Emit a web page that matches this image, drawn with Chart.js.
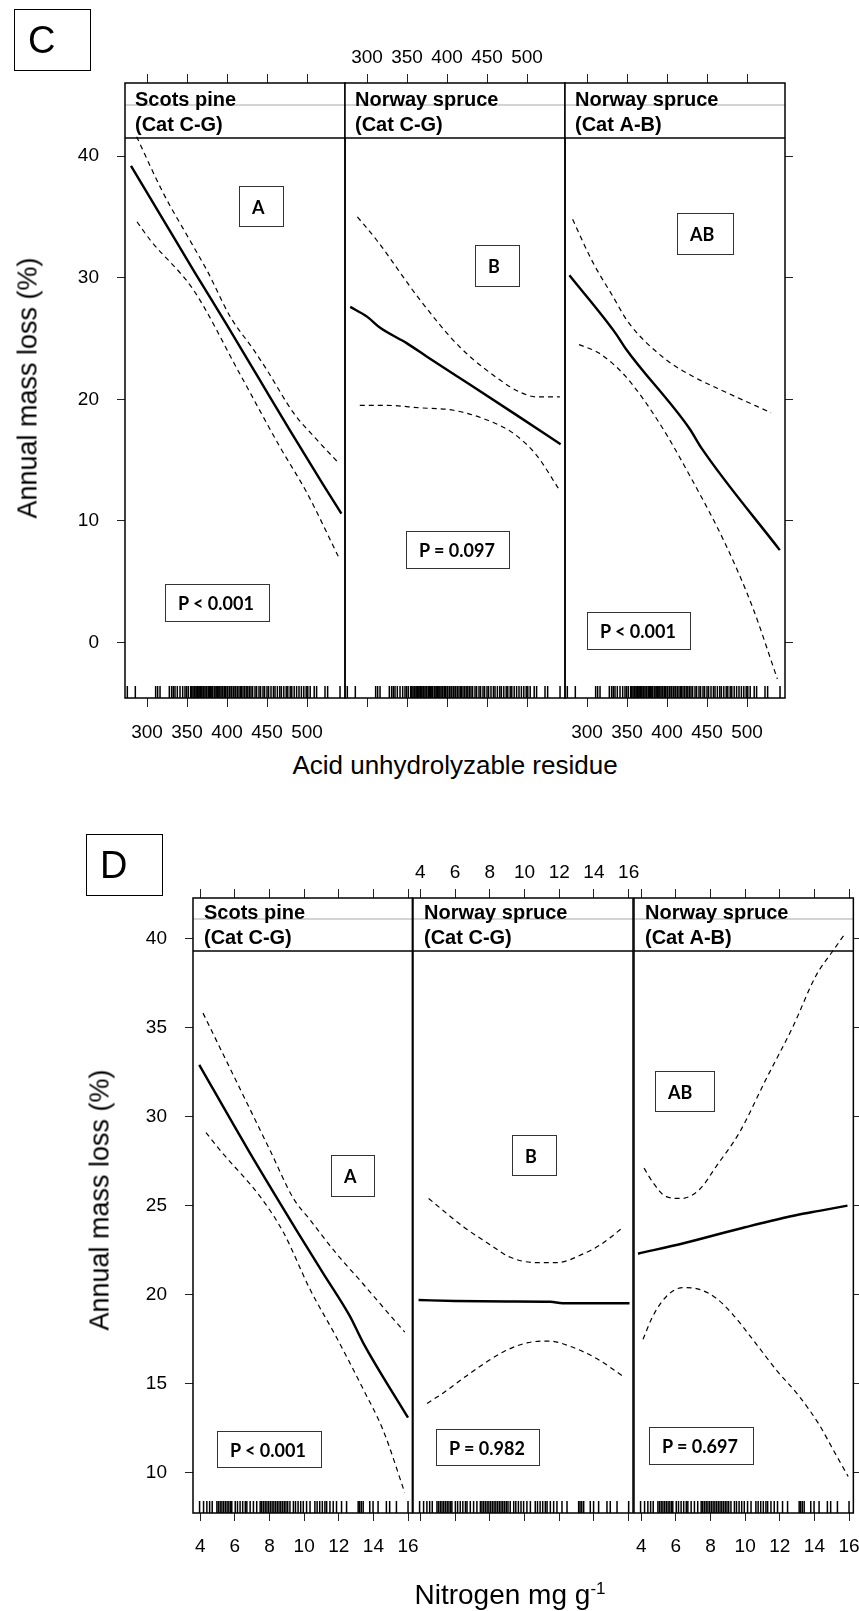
<!DOCTYPE html>
<html>
<head>
<meta charset="utf-8">
<script src="https://cdn.jsdelivr.net/npm/chart.js@4.4.1/dist/chart.umd.min.js"></script>
<style>
  body { margin: 0; background: #fff; }
  #page { position: relative; width: 859px; height: 1611px; overflow: hidden; font-family: "Liberation Sans", Arial, sans-serif; color: #000; }
  canvas { position: absolute; }
  .tag { position: absolute; border: 1px solid #000; box-sizing: border-box; font-size: 38px; line-height: 60px; padding-left: 13px; }
  .note { position: absolute; border: 1px solid #333; box-sizing: border-box; font: bold 18px Lato, "Liberation Sans", sans-serif; padding-left: 12px; display: flex; align-items: center; }
  .ytitle { position: absolute; font-size: 27px; white-space: nowrap; transform: translate(-50%, -50%) rotate(-90deg); }
  .xtitle { position: absolute; font-size: 26px; white-space: nowrap; transform: translateX(-50%); line-height: 30px; }
  .xtitle.big { font-size: 28px; }
  .xtitle sup { font-size: 17px; }
</style>
</head>
<body>
<div id="page"></div>
<script>
// ---- data ----
const panelTitles = [["Scots pine", "(Cat C-G)"], ["Norway spruce", "(Cat C-G)"], ["Norway spruce", "(Cat A-B)"]];

// figure C: acid unhydrolyzable residue
const cXTicks = [300, 350, 400, 450, 500];
const cYTicks = [0, 10, 20, 30, 40];
const cLetters = ["A", "B", "AB"];
const cPvals = ["P < 0.001", "P = 0.097", "P < 0.001"];

const c1FitX = [280, 320, 360, 400, 440, 480, 520, 543];
const c1FitY = [39.2, 34.8, 30.4, 26.1, 21.7, 17.3, 13.0, 10.6];
const c1UpX = [287, 320, 356, 375, 404, 433, 450, 483, 512, 539];
const c1UpY = [41.6, 37.0, 32.8, 30.6, 26.8, 24.1, 22.4, 18.9, 16.7, 14.8];
const c1LoX = [287.5, 304, 358, 416, 466, 500, 539];
const c1LoY = [34.6, 33.1, 29.0, 22.1, 16.1, 12.3, 7.1];

const c2FitX = [279, 300, 316, 350, 375, 429, 487, 542];
const c2FitY = [27.6, 26.8, 25.9, 24.6, 23.5, 21.2, 18.7, 16.3];
const c2UpX = [288, 312, 366, 416, 466, 491, 512, 541];
const c2UpY = [35.0, 33.1, 28.2, 24.3, 21.6, 20.6, 20.2, 20.2];
const c2LoX = [291, 325, 366, 408, 450, 483, 512, 539];
const c2LoY = [19.5, 19.5, 19.3, 19.1, 18.3, 17.2, 15.4, 12.7];

const c3FitX = [278, 336, 348, 428, 444, 541];
const c3FitY = [30.2, 25.4, 24.2, 17.6, 15.9, 7.6];
const c3UpX = [282, 307, 332, 352, 398, 432, 473, 530];
const c3UpY = [34.8, 31.3, 28.5, 26.3, 23.3, 21.9, 20.6, 18.9];
const c3LoX = [290, 315, 348, 390, 432, 473, 507, 538];
const c3LoY = [24.5, 23.8, 21.9, 18.1, 13.3, 8.1, 2.9, -3.0];

const cRug = [275.4, 285.4, 310.8, 313.3, 316.3, 327.9, 330.8, 332.9, 335, 337.9, 341.3, 344.6, 347.5, 349.6, 351.7, 354.6,
  356, 357.5, 359, 360, 361.5, 363, 364, 366, 367, 368.5, 370, 371, 372.5, 374, 375, 377, 378, 379.5, 381, 382, 384, 385,
  386.5, 388, 389, 391, 392.5, 394, 395, 397, 398, 400, 401, 403, 405, 406, 408, 410, 411, 413, 415, 417, 418, 420, 422,
  424, 426, 428, 430, 432, 435, 437, 440, 442, 445, 447, 450, 452, 455, 458, 460, 463, 466, 468, 471, 474, 476, 479, 481,
  484, 487, 490, 493, 496, 499, 501, 504, 509, 512, 522.5, 525.8, 541.3];

// figure D: nitrogen
const dXTicks = [4, 6, 8, 10, 12, 14, 16];
const dYTicks = [10, 15, 20, 25, 30, 35, 40];
const dLetters = ["A", "B", "AB"];
const dPvals = ["P < 0.001", "P = 0.982", "P = 0.697"];

const d1FitX = [3.94, 6.78, 9.57, 11.1, 12.64, 13.41, 16.0];
const d1FitY = [32.9, 28.1, 23.6, 21.2, 18.8, 17.3, 13.1];
const d1UpX = [4.16, 8.03, 9.38, 10.34, 11.87, 13.41, 14.56, 15.81];
const d1UpY = [35.8, 28.1, 25.4, 24.2, 22.3, 20.6, 19.3, 17.9];
const d1LoX = [4.33, 5.15, 7.46, 8.8, 10.34, 11.87, 13.41, 14.56, 15.81];
const d1LoY = [29.1, 28.1, 25.5, 23.5, 20.3, 17.6, 14.7, 12.4, 8.9];

const d2FitX = [3.9, 6, 9, 11.5, 12.2, 16.05];
const d2FitY = [19.7, 19.65, 19.62, 19.6, 19.52, 19.52];
const d2UpX = [4.48, 6.5, 8.03, 9.18, 10.72, 11.87, 13.41, 14.37, 15.71];
const d2UpY = [25.4, 23.8, 22.8, 22.1, 21.8, 21.8, 22.3, 22.8, 23.8];
const d2LoX = [4.39, 5.34, 6.88, 8.8, 10.15, 11.39, 12.64, 14.18, 15.71];
const d2LoY = [13.9, 14.5, 15.6, 16.8, 17.3, 17.4, 17.1, 16.4, 15.4];

const d3FitX = [3.81, 6.5, 10.05, 13.12, 14.28, 15.91];
const d3FitY = [22.3, 22.9, 23.8, 24.5, 24.7, 25.0];
const d3UpX = [4.16, 4.67, 5.45, 6.31, 7.36, 8.33, 9.67, 11.21, 12.74, 14.09, 15.0, 15.8];
const d3UpY = [27.1, 26.3, 25.5, 25.4, 25.9, 27.2, 29.1, 32.1, 35.0, 37.9, 39.2, 40.3];
const d3LoX = [4.1, 4.67, 5.45, 6.4, 7.36, 8.33, 9.28, 10.43, 11.78, 13.12, 14.28, 15.14, 15.95];
const d3LoY = [17.5, 18.8, 19.9, 20.4, 20.3, 19.8, 18.9, 17.5, 15.8, 14.3, 12.7, 11.2, 9.8];

const dRug = [3.96, 4.19, 4.38, 4.54, 4.69, 4.96, 5.05, 5.15, 5.25, 5.35, 5.45, 5.55, 5.65, 5.75, 5.82, 6.02, 6.15, 6.3,
  6.45, 6.6, 6.69, 6.88, 7.07, 7.26, 7.46, 7.55, 7.65, 7.75, 7.85, 7.95, 8.05, 8.15, 8.25, 8.35, 8.45, 8.55, 8.65, 8.75,
  8.85, 8.95, 9.05, 9.18, 9.38, 9.5, 9.65, 9.8, 9.95, 10.14, 10.34, 10.62, 10.75, 10.9, 11.05, 11.2, 11.3, 11.49, 11.68,
  11.87, 12.16, 12.45, 13.12, 13.2, 13.3, 13.41, 13.79, 13.98, 14.27, 14.75, 14.94, 15.33, 16.0];

// ---- layout ----
const FONT = '"Liberation Sans", Arial, sans-serif';
const M = { l: 110, r: 20, t: 40, b: 50 };
const RUG_LEN = 12;

const figC = {
  lefts: [125, 345, 565], top: 83, w: 220, h: 615,
  strip: 55, grey: 22, line1: 23, line2: 48, textX: 10,
  xMin: 272.5, xMax: 547.5, yMin: -4.56, yMax: 46.01,
  xTicks: cXTicks, yTicks: cYTicks, rug: cRug,
  tickB: 9, padB: 14,
  series: [
    [c1FitX, c1FitY, c1UpX, c1UpY, c1LoX, c1LoY],
    [c2FitX, c2FitY, c2UpX, c2UpY, c2LoX, c2LoY],
    [c3FitX, c3FitY, c3UpX, c3UpY, c3LoX, c3LoY]
  ]
};
const figD = {
  lefts: [193, 413, 634], top: 898, w: 220, h: 615,
  strip: 53, grey: 21, line1: 21, line2: 46, textX: 11,
  xMin: 3.58, xMax: 16.25, yMin: 7.75, yMax: 42.26,
  xTicks: dXTicks, yTicks: dYTicks, rug: dRug,
  tickB: 8, padB: 14,
  series: [
    [d1FitX, d1FitY, d1UpX, d1UpY, d1LoX, d1LoY],
    [d2FitX, d2FitY, d2UpX, d2UpY, d2LoX, d2LoY],
    [d3FitX, d3FitY, d3UpX, d3UpY, d3LoX, d3LoY]
  ]
};

const page = document.getElementById("page");
const pts = (xs, ys) => xs.map((x, i) => ({ x: x, y: ys[i] }));

function lineSet(xs, ys, dashed) {
  return {
    data: pts(xs, ys),
    showLine: true,
    borderColor: "#000",
    borderWidth: dashed ? 1.2 : 2.4,
    borderDash: dashed ? [5, 4] : [],
    pointRadius: 0,
    cubicInterpolationMode: "monotone"
  };
}

function makePanel(fig, i) {
  const W = fig.w + M.l + M.r, H = fig.h + M.t + M.b;
  const cv = document.createElement("canvas");
  cv.width = W; cv.height = H;
  cv.style.left = (fig.lefts[i] - M.l) + "px";
  cv.style.top = (fig.top - M.t) + "px";
  cv.style.width = W + "px"; cv.style.height = H + "px";
  page.appendChild(cv);

  const s = fig.series[i];
  const rugY = fig.yMin + (RUG_LEN / 2) * (fig.yMax - fig.yMin) / fig.h;
  const datasets = [
    lineSet(s[0], s[1], false),
    lineSet(s[2], s[3], true),
    lineSet(s[4], s[5], true),
    {
      data: fig.rug.map(v => ({ x: v, y: rugY })),
      pointStyle: "line", pointRotation: 90, pointRadius: RUG_LEN / 2,
      pointBorderWidth: 1.5, pointBorderColor: "#000", borderColor: "#000"
    }
  ];

  const deco = {
    id: "deco",
    beforeDatasetsDraw(chart) {
      const ctx = chart.ctx, a = chart.chartArea;
      ctx.save();
      ctx.fillStyle = "#fff";
      ctx.fillRect(a.left, a.top, a.right - a.left, fig.strip);
      ctx.strokeStyle = "#c4c4c4"; ctx.lineWidth = 1.3;
      ctx.beginPath(); ctx.moveTo(a.left, a.top + fig.grey); ctx.lineTo(a.right, a.top + fig.grey); ctx.stroke();
      ctx.strokeStyle = "#000"; ctx.lineWidth = 1.5;
      ctx.beginPath(); ctx.moveTo(a.left, a.top + fig.strip); ctx.lineTo(a.right, a.top + fig.strip); ctx.stroke();
      ctx.fillStyle = "#000";
      ctx.font = "bold 20px " + FONT;
      ctx.textBaseline = "alphabetic";
      ctx.fillText(panelTitles[i][0], a.left + fig.textX, a.top + fig.line1);
      ctx.fillText(panelTitles[i][1], a.left + fig.textX, a.top + fig.line2);
      ctx.restore();
    },
    afterDraw(chart) {
      const ctx = chart.ctx, a = chart.chartArea;
      ctx.save();
      ctx.strokeStyle = "#000"; ctx.lineWidth = 1.5;
      ctx.strokeRect(a.left, a.top, a.right - a.left, a.bottom - a.top);
      ctx.restore();
    }
  };

  const tickFont = { family: FONT, size: 19 };
  const xAxis = (pos, labels, tl, pad, size) => ({
    type: "linear", axis: "x", position: pos, min: fig.xMin, max: fig.xMax, bounds: "data",
    afterBuildTicks: sc => { sc.ticks = fig.xTicks.map(v => ({ value: v })); },
    afterFit: sc => { sc.height = size; },
    ticks: { display: labels, font: tickFont, color: "#000", padding: pad, maxRotation: 0, autoSkip: false },
    grid: { display: true, drawOnChartArea: false, drawTicks: true, tickLength: tl, color: "#222", lineWidth: 1 },
    border: { display: false }
  });
  const yAxis = (pos, show, labels, size) => ({
    type: "linear", axis: "y", position: pos, min: fig.yMin, max: fig.yMax, bounds: "data",
    afterBuildTicks: sc => { sc.ticks = fig.yTicks.map(v => ({ value: v })); },
    afterFit: sc => { sc.width = size; },
    ticks: { display: labels, font: tickFont, color: "#000", padding: 18 },
    grid: { display: show, drawOnChartArea: false, drawTicks: true, tickLength: 8, color: "#222", lineWidth: 1 },
    border: { display: false }
  });

  new Chart(cv, {
    type: "scatter",
    data: { datasets: datasets },
    options: {
      responsive: false,
      animation: false,
      events: [],
      layout: { padding: 0 },
      plugins: { legend: { display: false }, tooltip: { enabled: false } },
      scales: {
        x: xAxis("bottom", i !== 1, fig.tickB, fig.padB, M.b),
        x2: xAxis("top", i === 1, 9, 5, M.t),
        y: yAxis("left", i === 0, i === 0, M.l),
        y2: yAxis("right", i === 2, false, M.r)
      }
    },
    plugins: [deco]
  });
}

function addDiv(cls, html, x, y, w, h) {
  const d = document.createElement("div");
  d.className = cls;
  d.innerHTML = html;
  d.style.left = x + "px"; d.style.top = y + "px";
  if (w) d.style.width = w + "px";
  if (h) d.style.height = h + "px";
  page.appendChild(d);
  return d;
}

[0, 1, 2].forEach(i => makePanel(figC, i));
[0, 1, 2].forEach(i => makePanel(figD, i));

// panel labels
addDiv("tag", "C", 14, 9, 77, 62);
addDiv("tag", "D", 86, 834, 77, 62);

// annotation boxes
const cLetterBox = [[239, 186, 45, 41], [475, 245, 45, 42], [677, 213, 57, 42]];
const cPBox = [[165, 584, 105, 38], [406, 531, 104, 38], [587, 612, 104, 38]];
const dLetterBox = [[331, 1155, 44, 42], [512, 1135, 45, 41], [655, 1071, 60, 41]];
const dPBox = [[217, 1431, 105, 37], [436, 1429, 104, 37], [649, 1427, 105, 38]];
cLetters.forEach((t, i) => addDiv("note", t, ...cLetterBox[i]));
cPvals.forEach((t, i) => addDiv("note", t, ...cPBox[i]));
dLetters.forEach((t, i) => addDiv("note", t, ...dLetterBox[i]));
dPvals.forEach((t, i) => addDiv("note", t, ...dPBox[i]));

// axis titles
addDiv("ytitle", "Annual mass loss (%)", 28, 388);
addDiv("ytitle", "Annual mass loss (%)", 100, 1200);
addDiv("xtitle", "Acid unhydrolyzable residue", 455, 750);
addDiv("xtitle big", "Nitrogen mg g<sup>-1</sup>", 510, 1574);
</script>
</body>
</html>
